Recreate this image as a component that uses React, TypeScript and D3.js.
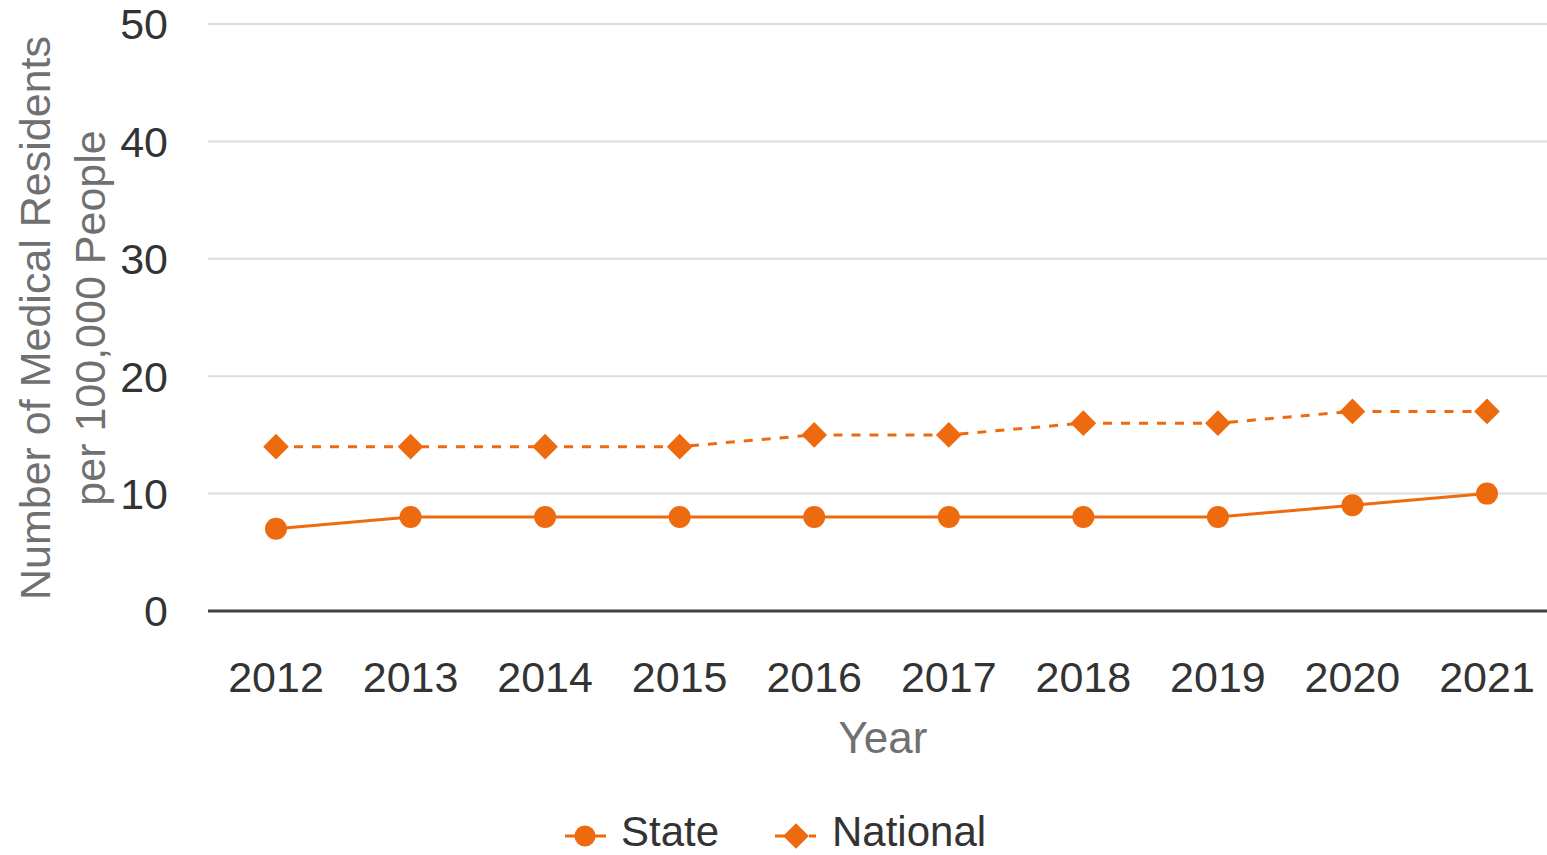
import React from "react";
import * as d3 from "d3";

const years: string[] = ["2012", "2013", "2014", "2015", "2016", "2017", "2018", "2019", "2020", "2021"];
const stateValues: number[] = [7, 8, 8, 8, 8, 8, 8, 8, 9, 10];
const nationalValues: number[] = [14, 14, 14, 14, 15, 15, 16, 16, 17, 17];
const yTicks: number[] = [0, 10, 20, 30, 40, 50];

const ORANGE = "#EE6A0E";
const FONT = "'Liberation Sans', Arial, sans-serif";

const App = (): React.JSX.Element => {
  const width = 1547;
  const height = 855;
  const plotLeft = 208;
  const plotRight = 1547;
  const plotTop = 24;
  const plotBottom = 611;

  const x: d3.ScalePoint<string> = d3.scalePoint<string>().domain(years).range([276, 1487]);
  const y: d3.ScaleLinear<number, number, never> = d3.scaleLinear([0, 50], [plotBottom, plotTop]);

  const line = d3
    .line<number>()
    .x((_d, i) => x(years[i]) as number)
    .y((d) => y(d));

  const diamond = d3.symbol(d3.symbolDiamond2, 420)();

  return (
    <svg width={width} height={height} style={{ position: "absolute", left: 0, top: 0 }}>
      <rect width={width} height={height} fill="#fff" />
      {/* grid */}
      <g>
        {yTicks.map((t) => (
          <line
            key={t}
            x1={plotLeft}
            x2={plotRight}
            y1={y(t)}
            y2={y(t)}
            stroke={t === 0 ? "#404040" : "#dcdcdc"}
            strokeWidth={t === 0 ? 3 : 2}
          />
        ))}
      </g>
      {/* y tick labels */}
      <g fontFamily={FONT} fontSize={43} fill="#333" textAnchor="end">
        {yTicks.map((t) => (
          <text key={t} x={168} y={y(t)} dy="0.36em">
            {t}
          </text>
        ))}
      </g>
      {/* x tick labels */}
      <g fontFamily={FONT} fontSize={43} fill="#333" textAnchor="middle">
        {years.map((yr) => (
          <text key={yr} x={x(yr)} y={692}>
            {yr}
          </text>
        ))}
      </g>
      {/* axis titles */}
      <text x={883} y={753} fontFamily={FONT} fontSize={44} fill="#707070" textAnchor="middle">
        Year
      </text>
      <g transform="translate(0,318) rotate(-90)" fontFamily={FONT} fontSize={43} fill="#707070" textAnchor="middle">
        <text x={0} y={50}>Number of Medical Residents</text>
        <text x={0} y={105}>per 100,000 People</text>
      </g>
      {/* national */}
      <path d={line(nationalValues) as string} fill="none" stroke={ORANGE} strokeWidth={3} strokeDasharray="9,9" />
      <g fill={ORANGE}>
        {nationalValues.map((v, i) => (
          <path key={i} d={diamond as string} transform={`translate(${x(years[i])},${y(v)})`} />
        ))}
      </g>
      {/* state */}
      <path d={line(stateValues) as string} fill="none" stroke={ORANGE} strokeWidth={3} />
      <g fill={ORANGE}>
        {stateValues.map((v, i) => (
          <circle key={i} cx={x(years[i])} cy={y(v)} r={11} />
        ))}
      </g>
      {/* legend */}
      <g fontFamily={FONT} fontSize={42} fill="#333">
        <line x1={565} x2={606} y1={836} y2={836} stroke={ORANGE} strokeWidth={3} />
        <circle cx={585} cy={836} r={10.5} fill={ORANGE} />
        <text x={621} y={846}>State</text>
        <line x1={775} x2={816} y1={836} y2={836} stroke={ORANGE} strokeWidth={3} strokeDasharray="10,7" />
        <path d={diamond as string} transform="translate(796,836)" fill={ORANGE} />
        <text x={832} y={846}>National</text>
      </g>
    </svg>
  );
};

export default App;
